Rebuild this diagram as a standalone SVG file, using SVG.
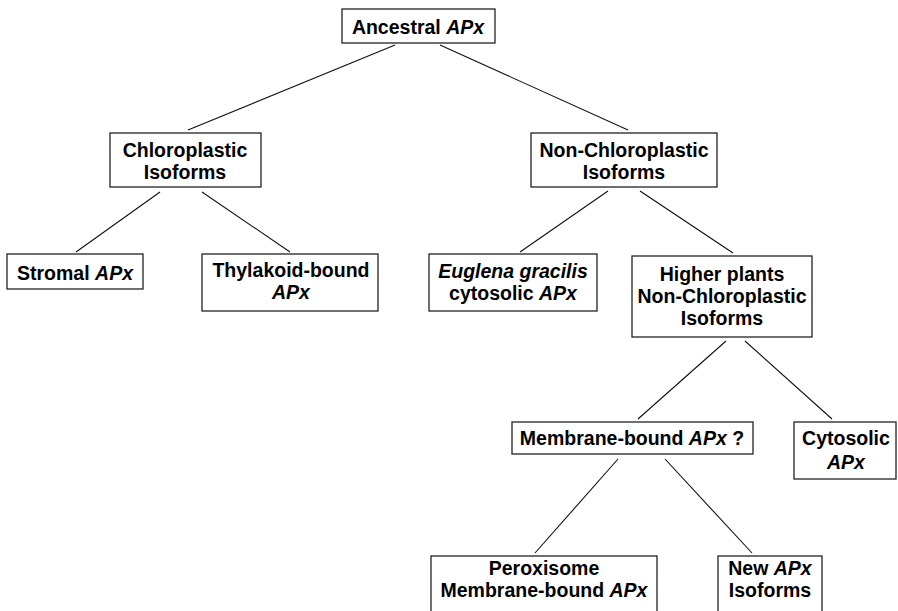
<svg xmlns="http://www.w3.org/2000/svg" width="898" height="611" viewBox="0 0 898 611">
<style>
.box{fill:#fff;stroke:#222;stroke-width:1.3}
.t{font-family:"Liberation Sans",Arial,sans-serif;font-weight:bold;font-size:19.5px;fill:#000;text-anchor:middle}
.i{font-style:italic}
.c line{stroke:#111;stroke-width:1.1}
</style>
<rect width="898" height="611" fill="#fff"/>
<g class="c" id="connectors">
<line x1="395" y1="45" x2="188" y2="130"/>
<line x1="440" y1="45" x2="628" y2="130"/>
<line x1="160" y1="192" x2="76" y2="252"/>
<line x1="202" y1="192" x2="290" y2="252"/>
<line x1="608" y1="191" x2="520" y2="252"/>
<line x1="640" y1="191" x2="733" y2="253"/>
<line x1="726" y1="341" x2="638" y2="419"/>
<line x1="745" y1="341" x2="832" y2="419"/>
<line x1="618" y1="459" x2="535" y2="553"/>
<line x1="665" y1="459" x2="752" y2="553"/>
</g>
<g id="ancestral"><rect class="box" x="342" y="9" width="153" height="34"/><text class="t" x="418" y="34">Ancestral <tspan class="i">APx</tspan></text></g>
<g id="chloroplastic"><rect class="box" x="110" y="133" width="151" height="54"/><text class="t" x="185" y="157">Chloroplastic</text><text class="t" x="185" y="179">Isoforms</text></g>
<g id="nonchloroplastic"><rect class="box" x="531" y="133" width="186" height="54"/><text class="t" x="624" y="157">Non-Chloroplastic</text><text class="t" x="624" y="179">Isoforms</text></g>
<g id="stromal"><rect class="box" x="7" y="254" width="136" height="35"/><text class="t" x="75" y="280">Stromal <tspan class="i">APx</tspan></text></g>
<g id="thylakoid"><rect class="box" x="202" y="254" width="176" height="57"/><text class="t" x="291" y="277">Thylakoid-bound</text><text class="t i" x="291" y="299">APx</text></g>
<g id="euglena"><rect class="box" x="429" y="254" width="168" height="57"/><text class="t" x="513" y="278"><tspan class="i">Euglena gracilis</tspan></text><text class="t" x="513" y="300">cytosolic <tspan class="i">APx</tspan></text></g>
<g id="higherplants"><rect class="box" x="632" y="256" width="180" height="81"/><text class="t" x="722" y="281">Higher plants</text><text class="t" x="722" y="303">Non-Chloroplastic</text><text class="t" x="722" y="325">Isoforms</text></g>
<g id="membrane"><rect class="box" x="512" y="422" width="241" height="32"/><text class="t" x="632" y="445">Membrane-bound <tspan class="i">APx</tspan> ?</text></g>
<g id="cytosolic"><rect class="box" x="794" y="422" width="102" height="57"/><text class="t" x="846" y="445">Cytosolic</text><text class="t i" x="846" y="469">APx</text></g>
<g id="peroxisome"><rect class="box" x="431" y="556" width="226" height="70"/><text class="t" x="544" y="575">Peroxisome</text><text class="t" x="544" y="597">Membrane-bound <tspan class="i">APx</tspan></text></g>
<g id="newapx"><rect class="box" x="718" y="556" width="104" height="70"/><text class="t" x="770" y="575">New <tspan class="i">APx</tspan></text><text class="t" x="770" y="597">Isoforms</text></g>
</svg>
